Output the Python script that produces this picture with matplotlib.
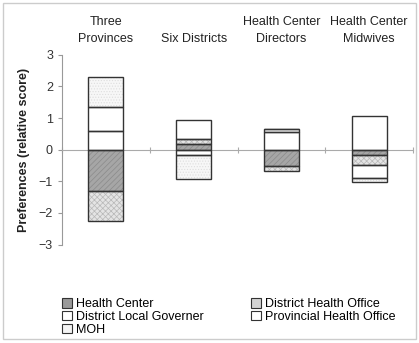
import numpy as np
import matplotlib
matplotlib.use("Agg")
import matplotlib.pyplot as plt
from matplotlib.patches import Patch, Rectangle

plt.rcParams["font.family"] = ["Liberation Sans", "DejaVu Sans"]
plt.rcParams["hatch.linewidth"] = 0.5

groups = ["Three\nProvinces", "Six Districts", "Health Center\nDirectors", "Health Center\nMidwives"]

health_center = [-1.31, 0.17, -0.53, -0.16]
district_health_office = [-0.96, 0.16, -0.15, -0.32]
district_local_governer = [0.59, 0.62, 0.56, 1.06]
provincial_health_office = [0.77, -0.17, 0.10, -0.40]
moh = [0.93, -0.75, 0.00, -0.15]

# name, values, fill, hatch, hatch colour
series = [
    ("Health Center", health_center, "#a6a6a6", "//////", "#8a8a8a"),
    ("District Health Office", district_health_office, "#e4e4e4", "xxxxxx", "#b8b8b8"),
    ("District Local Governer", district_local_governer, "#ffffff", None, None),
    ("Provincial Health Office", provincial_health_office, "#ffffff", None, None),
    ("MOH", moh, "#f7f7f7", "......", "#dedede"),
]

fig = plt.figure(figsize=(4.19, 3.43), dpi=100)
ax = fig.add_axes([0.148, 0.287, 0.838, 0.553])

x = np.arange(len(groups))
width = 0.4
pos_base = np.zeros(len(groups))
neg_base = np.zeros(len(groups))

for name, vals, fc, hatch, hc in series:
    vals = np.array(vals)
    bottoms = np.where(vals >= 0, pos_base, neg_base)
    # fill + hatch first, then the dark outline on top
    ax.bar(x, vals, width, bottom=bottoms, color=fc, hatch=hatch,
           edgecolor=hc if hc else fc, linewidth=0, zorder=2)
    ax.bar(x, vals, width, bottom=bottoms, fill=False,
           edgecolor="#333333", linewidth=1.0, zorder=3)
    pos_base = pos_base + np.where(vals >= 0, vals, 0)
    neg_base = neg_base + np.where(vals < 0, vals, 0)

ax.set_xlim(-0.5, len(groups) - 0.5)
ax.set_ylim(-3, 3)
ax.set_yticks(range(-3, 4))
ax.tick_params(axis="y", labelsize=9, colors="#333333", length=3, color="#999999")
ax.set_ylabel("Preferences (relative score)", fontsize=9, fontweight="bold", color="#222222", labelpad=6)

ax.spines["top"].set_visible(False)
ax.spines["right"].set_visible(False)
ax.spines["left"].set_color("#999999")
ax.spines["bottom"].set_position(("data", 0))
ax.spines["bottom"].set_color("#aaaaaa")
ax.set_xticks(np.arange(len(groups) + 1) - 0.5)
ax.set_xticklabels([])
ax.tick_params(axis="x", direction="inout", length=4, color="#aaaaaa")

for i, g in enumerate(groups):
    ax.text(i, 3.3, g, ha="center", va="bottom", fontsize=9, color="#222222",
            linespacing=1.6)

legend_fill = {"Health Center": "#9a9a9a", "District Health Office": "#d4d4d4",
               "District Local Governer": "#ffffff", "Provincial Health Office": "#ffffff",
               "MOH": "#f4f4f4"}
order = ["Health Center", "District Local Governer", "MOH",
         "District Health Office", "Provincial Health Office"]
handles = [Patch(facecolor=legend_fill[n], edgecolor="#333333", linewidth=0.8) for n in order]
leg = fig.legend(handles, order, loc="upper left", frameon=False, ncol=2, fontsize=9,
                 handlelength=0.8, handleheight=0.8, handletextpad=0.3,
                 labelspacing=0.05, columnspacing=3.8, borderaxespad=0, borderpad=0)
leg.set_bbox_to_anchor((0.148, 1 - 298 / 343), transform=fig.transFigure)

fig.patches.append(Rectangle((0.008, 0.012), 0.984, 0.98, transform=fig.transFigure,
                             fill=False, edgecolor="#cccccc", linewidth=1))

fig.savefig("out.png", dpi=100)
